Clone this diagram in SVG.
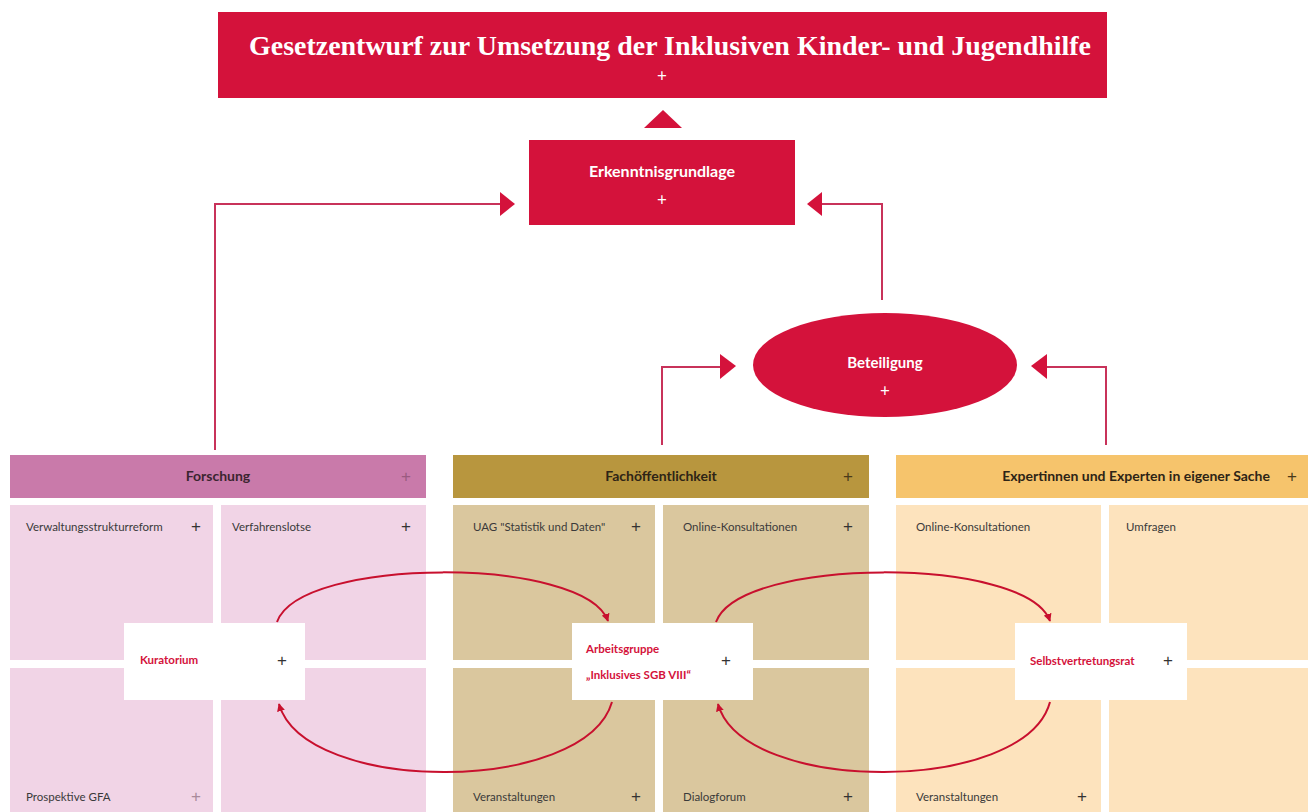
<svg xmlns="http://www.w3.org/2000/svg" width="1308" height="812" viewBox="0 0 1308 812">
<defs>
<style>
.red{fill:#d4123b}
.wt{fill:#ffffff;font-family:Lato,"Liberation Sans",sans-serif;font-weight:bold;text-anchor:middle}
.hd{font-family:Lato,"Liberation Sans",sans-serif;font-weight:bold;font-size:14px;fill:#3b2530}
.cl{font-family:Lato,"Liberation Sans",sans-serif;font-size:11.5px;fill:#3a3a3a}
.pl{font-family:"Liberation Sans",sans-serif;font-size:17px;fill:#333}
.in{font-family:Lato,"Liberation Sans",sans-serif;font-weight:bold;font-size:11.5px;fill:#d4123b}
.con{fill:none;stroke:#c8325a;stroke-width:2}
.cur{fill:none;stroke:#c8102e;stroke-width:2}
</style>
<marker id="ah" viewBox="0 0 10 10" refX="9" refY="5" markerWidth="4" markerHeight="4" orient="auto"><path d="M0,0L10,5L0,10z" fill="#c8102e"/></marker>
</defs>
<rect width="1308" height="812" fill="#ffffff"/>

<g id="title">
<rect x="218" y="12" width="889" height="86" class="red"/>
<text x="670" y="55" textLength="842" lengthAdjust="spacingAndGlyphs" style="fill:#fff;font-family:'Liberation Serif',serif;font-weight:bold;font-size:27px;text-anchor:middle">Gesetzentwurf zur Umsetzung der Inklusiven Kinder- und Jugendhilfe</text>
<text x="662" y="82" class="wt" style="font-weight:normal;font-size:17px">+</text>
</g>

<g id="erkenntnis">
<rect x="529" y="140" width="266" height="85" class="red"/>
<text x="662" y="177" class="wt" style="font-size:16px">Erkenntnisgrundlage</text>
<text x="662" y="206" class="wt" style="font-weight:normal;font-size:17px">+</text>
</g>

<g id="beteiligung">
<ellipse cx="885" cy="365" rx="132" ry="52" class="red"/>
<text x="885" y="368" class="wt" style="font-size:15px">Beteiligung</text>
<text x="885" y="397" class="wt" style="font-weight:normal;font-size:17px">+</text>
</g>

<g id="connectors">
<path d="M644,128L663,110L682,128z" class="red"/>
<path d="M215,450V204H502" class="con"/>
<path d="M500,192L515,204L500,216z" class="red"/>
<path d="M882,300V204H820" class="con"/>
<path d="M822,192L807,204L822,216z" class="red"/>
<path d="M662,445V367H722" class="con"/>
<path d="M720,354L736,366L720,379z" class="red"/>
<path d="M1106,445V367H1045" class="con"/>
<path d="M1047,354L1031,366L1047,379z" class="red"/>
</g>

<g id="forschung">
<rect x="10" y="455" width="416" height="43" fill="#c97aaa"/>
<text x="218" y="481" class="hd" text-anchor="middle">Forschung</text>
<text x="406" y="482" class="pl" text-anchor="middle" style="fill:#9a5a80">+</text>
<rect x="10" y="505" width="203" height="155" fill="#f1d4e6"/>
<rect x="221" y="505" width="205" height="155" fill="#f1d4e6"/>
<rect x="10" y="668" width="203" height="144" fill="#f1d4e6"/>
<rect x="221" y="668" width="205" height="144" fill="#f1d4e6"/>
<text x="26" y="531" class="cl">Verwaltungsstrukturreform</text>
<text x="196" y="532" class="pl" text-anchor="middle">+</text>
<text x="232" y="531" class="cl">Verfahrenslotse</text>
<text x="406" y="532" class="pl" text-anchor="middle">+</text>
<text x="26" y="801" class="cl">Prospektive GFA</text>
<text x="196" y="802" class="pl" text-anchor="middle" style="fill:#a88a9a">+</text>
</g>

<g id="fach">
<rect x="453" y="455" width="416" height="43" fill="#b8963e"/>
<text x="661" y="481" class="hd" text-anchor="middle" style="fill:#2e2416">Fachöffentlichkeit</text>
<text x="848" y="482" class="pl" text-anchor="middle" style="fill:#4a3a1a">+</text>
<rect x="453" y="505" width="202" height="155" fill="#dac79e"/>
<rect x="663" y="505" width="206" height="155" fill="#dac79e"/>
<rect x="453" y="668" width="202" height="144" fill="#dac79e"/>
<rect x="663" y="668" width="206" height="144" fill="#dac79e"/>
<text x="473" y="531" class="cl">UAG "Statistik und Daten"</text>
<text x="636" y="532" class="pl" text-anchor="middle">+</text>
<text x="683" y="531" class="cl">Online-Konsultationen</text>
<text x="848" y="532" class="pl" text-anchor="middle">+</text>
<text x="473" y="801" class="cl">Veranstaltungen</text>
<text x="636" y="802" class="pl" text-anchor="middle">+</text>
<text x="683" y="801" class="cl">Dialogforum</text>
<text x="848" y="802" class="pl" text-anchor="middle">+</text>
</g>

<g id="experten">
<rect x="896" y="455" width="412" height="43" fill="#f6c46c"/>
<text x="1270" y="481" class="hd" text-anchor="end" style="fill:#2e2416">Expertinnen und Experten in eigener Sache</text>
<text x="1292" y="482" class="pl" text-anchor="middle" style="fill:#4a3a1a">+</text>
<rect x="896" y="505" width="205" height="155" fill="#fde3bd"/>
<rect x="1109" y="505" width="199" height="155" fill="#fde3bd"/>
<rect x="896" y="668" width="205" height="144" fill="#fde3bd"/>
<rect x="1109" y="668" width="199" height="144" fill="#fde3bd"/>
<text x="916" y="531" class="cl">Online-Konsultationen</text>
<text x="1126" y="531" class="cl">Umfragen</text>
<text x="916" y="801" class="cl">Veranstaltungen</text>
<text x="1082" y="802" class="pl" text-anchor="middle">+</text>
</g>

<g id="kuratorium">
<rect x="124" y="623" width="181" height="77" fill="#ffffff"/>
<text x="140" y="664" class="in">Kuratorium</text>
<text x="282" y="666" class="pl" text-anchor="middle">+</text>
</g>

<g id="arbeitsgruppe">
<rect x="572" y="623" width="181" height="77" fill="#ffffff"/>
<text x="586" y="653" class="in">Arbeitsgruppe</text>
<text x="586" y="679" class="in">„Inklusives SGB VIII“</text>
<text x="726" y="666" class="pl" text-anchor="middle">+</text>
</g>

<g id="selbstvertretungsrat">
<rect x="1015" y="623" width="172" height="77" fill="#ffffff"/>
<text x="1030" y="665" class="in">Selbstvertretungsrat</text>
<text x="1168" y="666" class="pl" text-anchor="middle">+</text>
</g>

<g id="cycle-connectors">
<path d="M277,622C300,556 585,556 608,621" class="cur" marker-end="url(#ah)"/>
<path d="M612,702C585,795 305,795 279,704" class="cur" marker-end="url(#ah)"/>
<path d="M716,622C740,556 1027,556 1050,621" class="cur" marker-end="url(#ah)"/>
<path d="M1050,702C1025,795 743,795 718,704" class="cur" marker-end="url(#ah)"/>
</g>
</svg>
